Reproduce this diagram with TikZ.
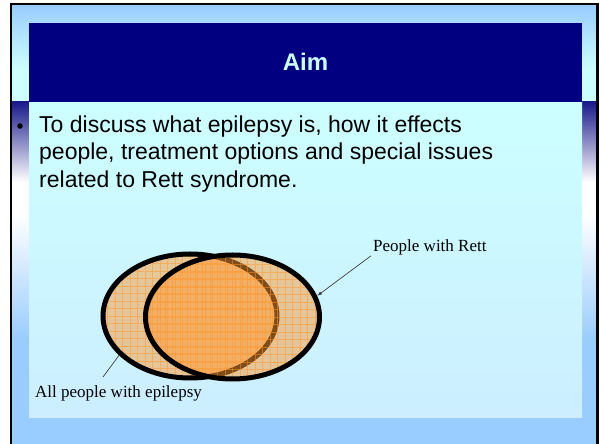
\documentclass[tikz,border=0pt]{standalone}
\usepackage{fontspec}
\setmainfont{Liberation Sans}
\newfontfamily\labelfont{Liberation Serif}
\usetikzlibrary{shapes.geometric,arrows.meta}
\definecolor{titlenavy}{RGB}{0,0,128}
\definecolor{skyblue}{RGB}{153,204,255}
\definecolor{paleblue}{RGB}{204,255,255}
\definecolor{contentblue}{RGB}{204,238,255}
\definecolor{vennorange}{RGB}{255,153,51}
\definecolor{gridorange}{RGB}{255,150,40}

\begin{document}
\begin{tikzpicture}[x=1pt, y=1pt,
			setshape/.style={ellipse, minimum width=174pt, minimum height=124pt, inner sep=0pt, fill=vennorange, fill opacity=0.5, draw=black, line width=5pt,
				path picture={\draw[gridorange, line width=0.8pt, draw opacity=0.5] (path picture bounding box.south west) grid[step=7.5pt] (path picture bounding box.north east);}},
			leader/.style={draw=black!75, line width=0.7pt},
			caption/.style={font=\labelfont\fontsize{17}{20}\selectfont, inner sep=0pt, text=black}
			]
			\useasboundingbox (0,0) rectangle (600,444);
			
			% Sfondo della slide
			\fill[skyblue] (11,0) rectangle (597,440);
			\shade[top color=skyblue, bottom color=paleblue] (11,440) rectangle (597,374);
			\fill[paleblue] (11,374) rectangle (597,342);
			
			% Bande laterali
			\foreach \sx/\ex in {12/29, 582/597} {
				\shade[top color=titlenavy!90, bottom color=white] (\sx,342) rectangle (\ex,262);
				\fill[white] (\sx,262) rectangle (\ex,230);
				\shade[top color=white, bottom color=skyblue] (\sx,230) rectangle (\ex,104);
			}
			
			% Area del contenuto e titolo
			\shade[top color=paleblue, bottom color=contentblue] (29,342) rectangle (582,26);
			\fill[titlenavy] (29,421) rectangle (582,342);
			\node[text=paleblue, font=\bfseries\fontsize{24}{28}\selectfont] (title) at (305.5,382) {Aim};
			
			% Cornice
			\draw[line width=2.5pt] (11,0) -- (11,440) -- (597.5,440) -- (597.5,0);
			
			% Punto elenco
			\fill (20,318) circle (2.8);
			\node[anchor=north west, inner sep=0pt, align=left, font=\fontsize{23}{27.5}\selectfont] (aimtext) at (39,328.6) {
				To discuss what epilepsy is, how it effects \\
				people, treatment options and special issues \\
				related to Rett syndrome.
			};
			
			% Insiemi
			\node[setshape] (episet) at (190,128) {};
			\node[setshape] (rettset) at (232.5,127) {};
			
			% Etichette
			\node[caption, anchor=base west] (rettlabel) at (373,192) {People with Rett};
			\node[caption, anchor=base west] (epilabel) at (35,46) {All people with epilepsy};
			\coordinate (epifoot) at (103,67);
			
			\draw[leader, -{Latex[length=5pt, width=3.5pt]}] ([xshift=-2pt]rettlabel.south west) -- (rettset.14);
			\draw[leader] (epifoot) -- (episet.209);
			
		\end{tikzpicture}
\end{document}
